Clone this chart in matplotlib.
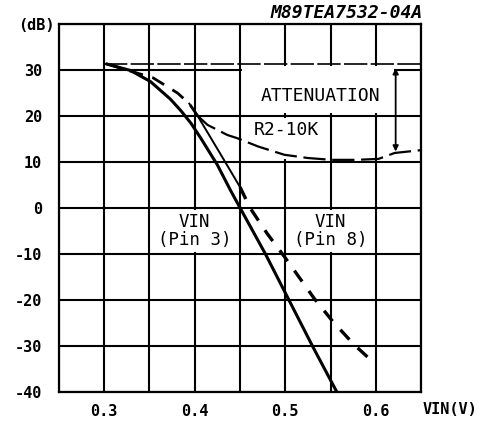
import matplotlib
matplotlib.use('Agg')
import matplotlib.pyplot as plt
from matplotlib.patches import Rectangle
import numpy as np

# VIN (Pin 3) - solid curve
pin3_v = [0.303, 0.329, 0.351, 0.373, 0.385, 0.396, 0.407, 0.425, 0.44, 0.45, 0.478, 0.504, 0.530, 0.557]
pin3_db = [31.2, 29.8, 27.4, 23.6, 21.0, 18.3, 15.0, 9.3, 3.6, 0.0, -10.0, -20.0, -30.0, -40.0]

# VIN (Pin 8) - dashed curve
pin8_v = [0.303, 0.325, 0.354, 0.381, 0.394, 0.403, 0.428, 0.45, 0.461, 0.48, 0.499, 0.515, 0.532, 0.553, 0.5755, 0.598]
pin8_db = [31.2, 29.9, 28.2, 24.9, 22.6, 20.0, 11.8, 4.5, 0.0, -5.6, -10.6, -15.0, -19.7, -24.8, -29.6, -33.7]

# R2 = 10K curve (branches off pin 8 curve)
r2_v = [0.403, 0.414, 0.436, 0.447, 0.47, 0.499, 0.525, 0.551, 0.578, 0.603, 0.621, 0.65]
r2_db = [20.0, 18.0, 15.8, 15.1, 13.3, 11.5, 10.8, 10.4, 10.4, 10.6, 11.9, 12.5]

ref_level = 31.2
atten_top = 30.3
atten_bottom = 12.2

xtick_vals = [0.25, 0.30, 0.35, 0.40, 0.45, 0.50, 0.55, 0.60, 0.65]
xtick_labels = ['', '0.3', '', '0.4', '', '0.5', '', '0.6', '']
ytick_vals = [-40, -30, -20, -10, 0, 10, 20, 30, 40]
ytick_labels = ['-40', '-30', '-20', '-10', '0', '10', '20', '30', '']

mono = 'DejaVu Sans Mono'

fig = plt.figure(figsize=(4.84, 4.3), dpi=100)
ax = fig.add_axes([59/484, 1 - 392/430, 362/484, 368.5/430])

ax.set_xlim(0.25, 0.65)
ax.set_ylim(-40, 40)
ax.set_xticks(xtick_vals)
ax.set_xticklabels(xtick_labels, fontfamily=mono, fontweight='bold', fontsize=11)
ax.set_yticks(ytick_vals)
ax.set_yticklabels(ytick_labels, fontfamily=mono, fontweight='bold', fontsize=11)
ax.tick_params(length=0, pad=9)
ax.tick_params(axis='y', pad=12)
ax.set_axisbelow(True)
ax.grid(True, color='black', lw=1.5)
for s in ax.spines.values():
    s.set_linewidth(1.6)

# white label backgrounds (hide grid lines)
for (x0, y0, w, h) in [(0.452, 20.5, 0.168, 10.3), (0.452, 10.5, 0.096, 9.0),
                       (0.352, -9.5, 0.096, 9.0), (0.502, -9.5, 0.096, 9.0)]:
    ax.add_patch(Rectangle((x0, y0), w, h, fc='white', ec='none', zorder=1))

# curves
ax.plot(pin3_v, pin3_db, color='black', lw=2.2, zorder=3)

v8 = np.array(pin8_v)
d8 = np.array(pin8_db)
up = v8 <= 0.403
mid = (v8 >= 0.394) & (v8 <= 0.45)
low = v8 >= 0.45
ax.plot(v8[up], d8[up], color='black', lw=2.0, dashes=(5, 3.5), zorder=3)
ax.plot(v8[mid], d8[mid], color='black', lw=1.4, zorder=3)
ax.plot(v8[low], d8[low], color='black', lw=2.4, dashes=(4, 3.5), zorder=3)

ax.plot(r2_v, r2_db, color='black', lw=1.6, dashes=(10, 3), zorder=3)

ax.plot([0.30, 0.65], [ref_level, ref_level], color='black', lw=1.2, dashes=(14, 2), zorder=3)

ax.annotate('', xy=(0.622, atten_bottom), xytext=(0.622, atten_top),
            arrowprops=dict(arrowstyle='<|-|>', color='black', lw=1.3,
                            mutation_scale=8, shrinkA=0, shrinkB=0), zorder=4)

ax.text(0.539, 24.2, 'ATTENUATION', fontfamily=mono, fontsize=13,
        ha='center', va='center', zorder=4)
ax.text(0.5017, 16.8, 'R2-10K', fontfamily=mono, fontsize=13,
        ha='center', va='center', zorder=4)
ax.text(0.40, -5, 'VIN\n(Pin 3)', fontfamily=mono, fontsize=12.5,
        ha='center', va='center', linespacing=1.0, zorder=4)
ax.text(0.55, -5, 'VIN\n(Pin 8)', fontfamily=mono, fontsize=12.5,
        ha='center', va='center', linespacing=1.0, zorder=4)

fig.text(423/484, 1 - 13/430, 'M89TEA7532-04A', fontfamily=mono, fontsize=13,
         fontstyle='italic', fontweight='bold', ha='right', va='center')
fig.text(55/484, 1 - 26/430, '(dB)', fontfamily=mono, fontsize=11,
         fontweight='bold', ha='right', va='center')
fig.text(477/484, 1 - 410/430, 'VIN(V)', fontfamily=mono, fontsize=11,
         fontweight='bold', ha='right', va='center')

fig.savefig('out.png', dpi=100)
